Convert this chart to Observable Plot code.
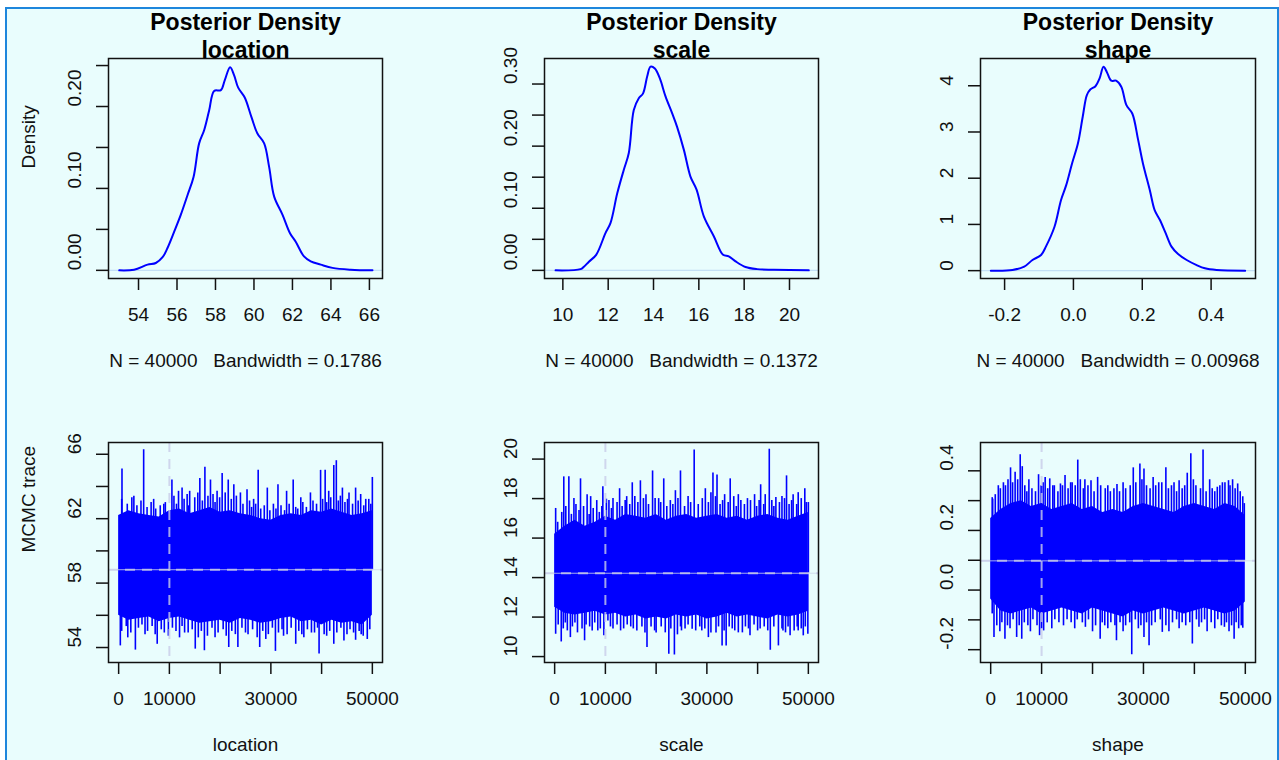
<!DOCTYPE html>
<html><head><meta charset="utf-8">
<script src="https://cdn.jsdelivr.net/npm/d3@7"></script>
<script src="https://cdn.jsdelivr.net/npm/@observablehq/plot@0.6"></script>
<style>
html,body{margin:0;padding:0;background:#fff;width:1279px;height:760px;overflow:hidden;}
#frame{position:absolute;left:5px;top:7px;width:1270px;height:760px;background:#e9fdfd;border:2px solid #1e86dc;border-bottom:none;}
.panel{position:absolute;}
</style></head><body>
<div id="frame"></div>
<div id="charts"></div>
<script>
// ---------- data ----------
const params = ["location", "scale", "shape"];
const bandwidths = ["0.1786", "0.1372", "0.00968"];
const nPost = 40000;
const burnIn = 10000;
const traceMeans = [58.83, 14.22, 0.098];

// posterior densities
const densLocX = [53.0, 53.77, 54.47, 54.9, 55.25, 55.5, 55.85, 56.2, 56.55, 56.86, 57.15, 57.41, 57.67, 57.93, 58.28, 58.48, 58.76, 58.97, 59.18, 59.52, 59.87, 60.18, 60.53, 60.79, 61.05, 61.48, 61.88, 62.17, 62.6, 62.95, 63.47, 64.08, 65.03, 66.16];
const densLocY = [0, 0.0008, 0.007, 0.009, 0.016, 0.027, 0.047, 0.068, 0.092, 0.114, 0.155, 0.171, 0.195, 0.219, 0.220, 0.232, 0.248, 0.238, 0.223, 0.211, 0.187, 0.167, 0.155, 0.126, 0.090, 0.068, 0.045, 0.035, 0.017, 0.011, 0.007, 0.003, 0.0008, 0];
const densScaleX = [9.68, 10.78, 10.93, 11.15, 11.47, 11.88, 12.1, 12.4, 12.69, 12.91, 13.13, 13.35, 13.54, 13.72, 13.87, 14.06, 14.28, 14.53, 14.82, 15.04, 15.34, 15.63, 15.9, 16.22, 16.66, 17.07, 17.32, 17.62, 18.06, 18.57, 19.31, 20.85];
const densScaleY = [0, 0.002, 0.006, 0.014, 0.025, 0.06, 0.076, 0.124, 0.162, 0.189, 0.258, 0.277, 0.285, 0.312, 0.328, 0.325, 0.309, 0.28, 0.253, 0.231, 0.194, 0.151, 0.13, 0.087, 0.055, 0.025, 0.0225, 0.0145, 0.0054, 0.002, 0.001, 0];
const densShapeX = [-0.24, -0.177, -0.143, -0.119, -0.094, -0.08, -0.055, -0.036, -0.021, -0.004, 0.013, 0.027, 0.039, 0.049, 0.064, 0.076, 0.0875, 0.097, 0.11, 0.124, 0.139, 0.154, 0.171, 0.188, 0.202, 0.222, 0.236, 0.251, 0.268, 0.285, 0.304, 0.329, 0.358, 0.382, 0.416, 0.499];
const densShapeY = [0, 0.014, 0.086, 0.23, 0.34, 0.52, 0.95, 1.53, 1.85, 2.32, 2.75, 3.33, 3.80, 3.92, 3.99, 4.16, 4.41, 4.30, 4.11, 4.11, 3.98, 3.58, 3.40, 2.83, 2.32, 1.74, 1.31, 1.10, 0.81, 0.52, 0.36, 0.23, 0.12, 0.05, 0.014, 0];

// MCMC traces: solid core of the band (every 2000 iterations)
const traceIter = [0, 2000, 4000, 6000, 8000, 10000, 12000, 14000, 16000, 18000, 20000, 22000, 24000, 26000, 28000, 30000, 32000, 34000, 36000, 38000, 40000, 42000, 44000, 46000, 48000, 50000];
const locHi = [62.2, 62.5, 62.3, 62.2, 62.1, 62.5, 62.6, 62.3, 62.5, 62.7, 62.4, 62.5, 62.3, 62.2, 62.0, 61.9, 62.2, 62.3, 62.2, 62.5, 62.4, 62.6, 62.4, 62.2, 62.3, 62.5];
const locLo = [56.0, 55.7, 55.8, 55.9, 55.6, 55.8, 55.9, 55.7, 55.5, 55.6, 55.7, 55.5, 55.8, 55.7, 55.5, 55.6, 55.8, 55.9, 55.6, 55.7, 55.4, 55.7, 55.5, 55.6, 55.4, 56.0];
const scaleHi = [16.2, 16.6, 16.9, 16.6, 16.8, 17.1, 16.9, 17.2, 17.1, 17.0, 17.2, 16.9, 17.1, 17.2, 17.0, 17.1, 17.2, 17.0, 17.1, 16.9, 17.1, 17.2, 17.0, 16.9, 17.1, 17.3];
const scaleLo = [12.5, 12.2, 12.1, 12.2, 12.3, 12.1, 12.2, 12.0, 12.1, 11.9, 12.0, 11.9, 12.1, 12.0, 12.1, 11.9, 12.0, 12.2, 12.0, 12.1, 12.0, 11.9, 12.1, 12.0, 12.1, 12.3];
const shapeHi = [0.24, 0.27, 0.29, 0.30, 0.28, 0.29, 0.27, 0.28, 0.29, 0.27, 0.28, 0.26, 0.27, 0.26, 0.28, 0.29, 0.28, 0.27, 0.26, 0.28, 0.29, 0.28, 0.27, 0.29, 0.28, 0.25];
const shapeLo = [-0.03, -0.07, -0.08, -0.07, -0.06, -0.08, -0.07, -0.06, -0.07, -0.08, -0.06, -0.07, -0.08, -0.09, -0.07, -0.08, -0.07, -0.06, -0.07, -0.08, -0.07, -0.06, -0.07, -0.08, -0.07, -0.04];

// MCMC traces: large excursions (iteration, value)
const locSpikeIter = [660, 3000, 4930, 6900, 8900, 10500, 11800, 12500, 13500, 14000, 16000, 17000, 18100, 19400, 20400, 21600, 22700, 24000, 25300, 26600, 27500, 29300, 31400, 33100, 34400, 35900, 37800, 39800, 40700, 41400, 42400, 42900, 44100, 45400, 46700, 47700, 48700, 50000,
  330, 1800, 3300, 5200, 7600, 9800, 12000, 13000, 15100, 16900, 19000, 21700, 23500, 25500, 27800, 29000, 30900, 32500, 34900, 36500, 38000, 39500, 41000, 42400, 44400, 46700, 47800, 49000];
const locSpikeVal = [65.08, 63.4, 66.28, 63.2, 62.9, 64.4, 63.7, 63.9, 63.5, 63.7, 64.5, 65.2, 64.4, 63.7, 64.8, 64.4, 64.1, 63.6, 63.8, 63.2, 65.0, 63.9, 64.1, 63.7, 64.4, 63.3, 63.6, 65.0, 65.0, 63.7, 65.3, 65.6, 63.9, 63.6, 63.9, 63.5, 63.2, 64.56,
  54.1, 54.6, 53.84, 54.8, 54.2, 54.7, 54.6, 54.9, 53.9, 53.8, 54.6, 54.0, 54.0, 54.8, 54.0, 54.5, 53.76, 54.7, 54.2, 54.6, 54.9, 53.6, 54.7, 54.2, 54.4, 54.45, 54.8, 54.5];
const scaleSpikeIter = [200, 1800, 2800, 3800, 5100, 6400, 7100, 8300, 9500, 10200, 11500, 12800, 14200, 15300, 16900, 18000, 19300, 20500, 21500, 23800, 24800, 26300, 27500, 29700, 30800, 31200, 32000, 33500, 34600, 35300, 36200, 38000, 39400, 40600, 41500, 42300, 43600, 44800, 45700, 47000, 48000, 49300, 50000,
  200, 1300, 2500, 3100, 4500, 5900, 7400, 8500, 9700, 11500, 13000, 15500, 18200, 20000, 22500, 23600, 25000, 27100, 29000, 30300, 31800, 33000, 33800, 35500, 37000, 38500, 40000, 42500, 44100, 45500, 46400, 48000, 49000, 49900];
const scaleSpikeVal = [17.5, 19.1, 19.1, 18.0, 19.0, 18.2, 18.1, 17.9, 18.6, 17.97, 18.0, 18.5, 18.1, 18.8, 18.9, 18.2, 19.4, 18.0, 19.0, 18.4, 19.4, 18.1, 20.46, 18.5, 18.3, 19.3, 19.2, 18.2, 19.0, 18.1, 18.2, 18.0, 18.2, 18.7, 18.2, 20.5, 18.05, 18.1, 19.15, 18.2, 18.3, 18.5, 17.8,
  11.13, 10.74, 11.3, 10.96, 11.2, 10.8, 11.3, 11.3, 11.05, 11.4, 11.3, 11.4, 10.46, 11.2, 10.12, 10.08, 11.3, 11.38, 11.3, 10.96, 11.2, 10.54, 10.54, 11.3, 11.2, 11.05, 11.3, 10.32, 10.54, 11.2, 11.05, 11.3, 11.05, 11.13];
const shapeSpikeIter = [400, 1500, 2500, 3900, 4800, 5800, 6200, 7500, 9400, 10700, 11600, 12500, 13700, 14600, 16000, 17100, 18500, 19700, 21000, 23000, 24800, 26000, 28000, 29300, 30100, 31900, 33000, 34400, 36000, 37000, 38600, 39300, 41700, 43000, 44500, 45500, 46700, 47500, 48500, 49500,
  650, 1800, 2800, 3800, 5100, 6100, 7800, 9600, 10400, 12000, 14300, 16500, 18600, 20000, 21500, 23000, 24700, 26000, 27700, 29000, 30100, 31100, 33700, 35000, 37000, 39600, 40900, 42500, 44000, 45900, 46800, 47800, 48700, 49500];
const shapeSpikeVal = [0.305, 0.35, 0.36, 0.41, 0.395, 0.454, 0.414, 0.37, 0.387, 0.378, 0.373, 0.35, 0.356, 0.384, 0.36, 0.436, 0.37, 0.367, 0.378, 0.35, 0.354, 0.36, 0.41, 0.423, 0.406, 0.378, 0.36, 0.41, 0.36, 0.367, 0.392, 0.457, 0.47, 0.37, 0.345, 0.36, 0.367, 0.37, 0.356, 0.313,
  -0.159, -0.14, -0.165, -0.13, -0.159, -0.165, -0.14, -0.153, -0.137, -0.13, -0.12, -0.13, -0.125, -0.14, -0.165, -0.13, -0.17, -0.14, -0.217, -0.13, -0.159, -0.187, -0.142, -0.14, -0.13, -0.181, -0.125, -0.14, -0.13, -0.125, -0.14, -0.165, -0.13, -0.128];

// MCMC traces: ragged band edge (iteration, value)
const locEdgeIter = [600, 1700, 2600, 3600, 4400, 5600, 6400, 7300, 8200, 9200, 10900, 11400, 12900, 13800, 15000, 15600, 16500, 17600, 18600, 19000, 19900, 21000, 22200, 23200, 24500, 25800, 26200, 27000, 28000, 28700, 29800, 30500, 31000, 32000, 32700, 33600, 34900, 35300, 36300, 37000, 38300, 39000, 40200, 41000, 41800, 43300, 43700, 44600, 45100, 46100, 47200, 48300, 49300, 49700,
  600, 1500, 2400, 3900, 4600, 5700, 6600, 7200, 8400, 9000, 10600, 11300, 12500, 13700, 14500, 15700, 16300, 17500, 18400, 19600, 20600, 21200, 22300, 23000, 24300, 25000, 26400, 27300, 28400, 29500, 30300, 31500, 32200, 33200, 34000, 35500, 36100, 37200, 38600, 39200, 40500, 41600, 43000, 43800, 45000, 45600, 46300, 47400, 48200, 49500];
const locEdgeVal = [63.2, 62.9, 63.3, 62.8, 63.1, 62.7, 63.0, 62.6, 62.8, 63.0, 63.4, 62.9, 63.2, 62.8, 63.3, 63.6, 63.1, 63.4, 63.5, 63.0, 63.3, 63.6, 63.2, 63.4, 62.9, 63.1, 62.7, 62.9, 62.6, 62.8, 62.5, 62.9, 62.6, 62.8, 62.5, 62.9, 62.7, 62.6, 63.0, 62.7, 63.1, 62.9, 63.2, 63.0, 63.3, 63.1, 63.4, 63.0, 63.2, 62.9, 63.1, 62.8, 63.2, 62.9,
  55.0, 55.3, 54.9, 55.2, 55.4, 55.0, 55.3, 54.8, 55.1, 54.9, 55.2, 55.0, 55.3, 54.9, 55.1, 54.6, 55.0, 54.7, 55.2, 54.9, 55.1, 54.7, 55.0, 54.8, 55.2, 54.9, 55.1, 54.6, 55.0, 54.8, 55.2, 54.9, 55.1, 54.8, 55.2, 55.0, 54.8, 55.1, 54.9, 55.2, 54.8, 55.0, 54.9, 55.2, 54.8, 55.1, 54.9, 55.0, 54.7, 55.1];
const scaleEdgeIter = [600, 1400, 2200, 3300, 4200, 4800, 5700, 6800, 7600, 8800, 9300, 10700, 11200, 12300, 13300, 13900, 14800, 15800, 16400, 17500, 18500, 19800, 20900, 22100, 22800, 23300, 24300, 25600, 26800, 28300, 29100, 30300, 31700, 32600, 33100, 34200, 35800, 36700, 37400, 38600, 39800, 40300, 41200, 42800, 43200, 44300, 45300, 46200, 46700, 47700, 48600, 49600,
  700, 1700, 2100, 3500, 4000, 5400, 6200, 6900, 7900, 9000, 10500, 11000, 12300, 13600, 14300, 15000, 16200, 17200, 17800, 19000, 19700, 21000, 21800, 22900, 24200, 24800, 25700, 26300, 27800, 28600, 29600, 30800, 32300, 33400, 34400, 35000, 36200, 37600, 38200, 39300, 40500, 41300, 42000, 43200, 44800, 45000, 46000, 47200, 47800, 48600, 49400];
const scaleEdgeVal = [16.8, 17.3, 17.6, 17.2, 17.7, 17.4, 17.6, 17.2, 17.5, 17.3, 17.6, 17.9, 17.5, 17.8, 17.6, 17.9, 17.7, 18.1, 17.8, 18.0, 17.7, 18.0, 17.8, 17.6, 17.9, 17.7, 18.0, 17.6, 17.8, 17.7, 18.0, 17.8, 18.1, 17.7, 17.9, 17.8, 17.6, 17.9, 17.7, 17.9, 17.6, 17.9, 17.7, 17.9, 17.6, 17.8, 18.0, 17.7, 17.9, 17.7, 18.0, 17.8,
  11.6, 11.4, 11.7, 11.5, 11.7, 11.4, 11.6, 11.5, 11.7, 11.4, 11.8, 11.5, 11.6, 11.4, 11.6, 11.5, 11.3, 11.5, 11.2, 11.5, 11.3, 11.5, 11.2, 11.4, 11.1, 11.5, 11.4, 11.6, 11.3, 11.5, 11.4, 11.2, 11.5, 11.3, 11.5, 11.4, 11.2, 11.5, 11.4, 11.6, 11.4, 11.5, 11.3, 11.5, 11.4, 11.3, 11.5, 11.3, 11.5, 11.4, 11.5];
const shapeEdgeIter = [300, 900, 1900, 2900, 3400, 4300, 5300, 6700, 7100, 8100, 8800, 9900, 10300, 11200, 12200, 13200, 14100, 15200, 15700, 16600, 17600, 18200, 19100, 20300, 21600, 22500, 23500, 24200, 25300, 26500, 27400, 28500, 29700, 30600, 31300, 32400, 33600, 34900, 35500, 36500, 37600, 38100, 39800, 40300, 41200, 42300, 43500, 44000, 45000, 46000, 47000, 48000, 49000, 49800,
  300, 1200, 2200, 3300, 4400, 5600, 6600, 7300, 8300, 9100, 10000, 11100, 12600, 13400, 15000, 15800, 17000, 18000, 19200, 20600, 21900, 22400, 23600, 24400, 25400, 26500, 27300, 28400, 29500, 30600, 31600, 32300, 33300, 34400, 35700, 36500, 37600, 38300, 39100, 40400, 41400, 42000, 43300, 44600, 45300, 46300, 47300, 48200, 49200];
const shapeEdgeVal = [0.31, 0.32, 0.34, 0.35, 0.37, 0.36, 0.37, 0.35, 0.33, 0.34, 0.33, 0.35, 0.36, 0.34, 0.35, 0.33, 0.35, 0.34, 0.36, 0.35, 0.37, 0.34, 0.35, 0.33, 0.35, 0.34, 0.33, 0.34, 0.33, 0.34, 0.35, 0.36, 0.37, 0.35, 0.34, 0.35, 0.36, 0.34, 0.35, 0.33, 0.34, 0.35, 0.37, 0.35, 0.34, 0.33, 0.34, 0.33, 0.35, 0.36, 0.35, 0.34, 0.33, 0.29,
  -0.08, -0.12, -0.11, -0.12, -0.10, -0.12, -0.11, -0.12, -0.10, -0.12, -0.13, -0.11, -0.10, -0.11, -0.10, -0.11, -0.10, -0.11, -0.10, -0.12, -0.11, -0.12, -0.11, -0.12, -0.11, -0.12, -0.11, -0.10, -0.12, -0.11, -0.12, -0.11, -0.10, -0.12, -0.11, -0.10, -0.11, -0.12, -0.11, -0.10, -0.11, -0.10, -0.11, -0.10, -0.12, -0.11, -0.12, -0.11, -0.12];

// axis ticks and labels
const densXTicks = [[54, 56, 58, 60, 62, 64, 66], [10, 12, 14, 16, 18, 20], [-0.2, 0.0, 0.2, 0.4]];
const densXLabels = [["54", "56", "58", "60", "62", "64", "66"], ["10", "12", "14", "16", "18", "20"], ["-0.2", "0.0", "0.2", "0.4"]];
const densYTicks = [[0, 0.05, 0.10, 0.15, 0.20, 0.25], [0, 0.05, 0.10, 0.15, 0.20, 0.25, 0.30], [0, 1, 2, 3, 4]];
const densYLabelAt = [[0, 0.10, 0.20], [0, 0.10, 0.20, 0.30], [0, 1, 2, 3, 4]];
const densYLabels = [["0.00", "0.10", "0.20"], ["0.00", "0.10", "0.20", "0.30"], ["0", "1", "2", "3", "4"]];
const traceXTicks = [0, 10000, 20000, 30000, 40000, 50000];
const traceXLabelAt = [0, 10000, 30000, 50000];
const traceXLabels = ["0", "10000", "30000", "50000"];
const traceYTicks = [[54, 56, 58, 60, 62, 64, 66], [10, 12, 14, 16, 18, 20], [-0.2, -0.1, 0.0, 0.1, 0.2, 0.3, 0.4]];
const traceYLabelAt = [[54, 58, 62, 66], [10, 12, 14, 16, 18, 20], [-0.2, 0.0, 0.2, 0.4]];
const traceYLabels = [["54", "58", "62", "66"], ["10", "12", "14", "16", "18", "20"], ["-0.2", "0.0", "0.2", "0.4"]];

// ---------- build ----------
const dens = [[densLocX, densLocY], [densScaleX, densScaleY], [densShapeX, densShapeY]];
const band = [[locHi, locLo], [scaleHi, scaleLo], [shapeHi, shapeLo]];
const spikes = [[locSpikeIter.concat(locEdgeIter), locSpikeVal.concat(locEdgeVal)],
                [scaleSpikeIter.concat(scaleEdgeIter), scaleSpikeVal.concat(scaleEdgeVal)],
                [shapeSpikeIter.concat(shapeEdgeIter), shapeSpikeVal.concat(shapeEdgeVal)]];

const densXDomain = [[52.44, 66.68], [9.19, 21.28], [-0.27, 0.529]];
const densYDomain = [[-0.00995, 0.2586], [-0.0131, 0.3411], [-0.17, 4.59]];
const traceXDomain = [-1999, 52000];
const traceYDomain = [[53.07, 66.73], [9.70, 20.84], [-0.243, 0.495]];

const colLeft = [0, 436, 872];
const boxW = [274, 274, 275];
const mRight = [30, 30, 20];
const BLUE = "#0000ff";
const INK = "#111";
const FONT = "'Liberation Sans', Arial, Helvetica, sans-serif";
const charts = document.getElementById("charts");

function place(svg, left, top) {
  const d = document.createElement("div");
  d.className = "panel";
  d.style.left = left + "px";
  d.style.top = top + "px";
  d.appendChild(svg);
  charts.appendChild(d);
}

function commonMarks(xTicks, xLabAt, xLabs, yTicks, yLabAt, yLabs) {
  return [
    Plot.frame({stroke: INK, strokeWidth: 1.5}),
    Plot.axisX({ticks: xTicks, tickSize: 12, tickFormat: () => "", color: INK, strokeWidth: 1.5, label: null}),
    Plot.axisY({ticks: yTicks, tickSize: 12, tickFormat: () => "", color: INK, strokeWidth: 1.5, label: null}),
    Plot.text(xLabAt, {x: d => d, text: (d, j) => xLabs[j], frameAnchor: "bottom", dy: 36, lineAnchor: "middle", fill: INK}),
    Plot.text(yLabAt, {y: d => d, text: (d, j) => yLabs[j], frameAnchor: "left", dx: -33.5, rotate: -90, lineAnchor: "middle", fill: INK})
  ];
}

for (let i = 0; i < 3; i++) {
  const w = 108 + boxW[i] + mRight[i];
  // density panel
  const dd = dens[i][0].map((x, j) => ({x, y: dens[i][1][j]}));
  const top = Plot.plot({
    width: w, height: 380,
    marginLeft: 108, marginRight: mRight[i], marginTop: 58, marginBottom: 102,
    x: {domain: densXDomain[i]},
    y: {domain: densYDomain[i]},
    style: {background: "transparent", fontSize: "19px", fontFamily: FONT, color: INK, overflow: "visible"},
    marks: [
      Plot.ruleY([0], {stroke: "#c3dff5", strokeWidth: 1.2}),
      Plot.line(dd, {x: "x", y: "y", stroke: BLUE, strokeWidth: 2, curve: "catmull-rom"}),
      ...commonMarks(densXTicks[i], densXTicks[i], densXLabels[i], densYTicks[i], densYLabelAt[i], densYLabels[i]),
      Plot.text(["Posterior Density"], {frameAnchor: "top", dy: -36, fontWeight: "bold", fontSize: 23, lineAnchor: "middle", fill: "#000"}),
      Plot.text([params[i]], {frameAnchor: "top", dy: -8, fontWeight: "bold", fontSize: 23, lineAnchor: "middle", fill: "#000"}),
      Plot.text([`N = ${nPost}\u00a0\u00a0\u00a0Bandwidth = ${bandwidths[i]}`], {frameAnchor: "bottom", dy: 82, lineAnchor: "middle", fill: INK}),
      ...(i === 0 ? [Plot.text(["Density"], {frameAnchor: "left", dx: -80, rotate: -90, lineAnchor: "middle", fill: INK})] : [])
    ]
  });
  place(top, colLeft[i], 0);

  // trace panel
  const bd = traceIter.map((it, j) => ({iter: it, hi: band[i][0][j], lo: band[i][1][j]}));
  const sd = spikes[i][0].map((it, j) => ({iter: it, v: spikes[i][1][j]}));
  const bot = Plot.plot({
    width: w, height: 376,
    marginLeft: 108, marginRight: mRight[i], marginTop: 58, marginBottom: 98,
    x: {domain: traceXDomain},
    y: {domain: traceYDomain[i]},
    style: {background: "transparent", fontSize: "19px", fontFamily: FONT, color: INK, overflow: "visible"},
    marks: [
      Plot.areaY(bd, {x: "iter", y1: "lo", y2: "hi", fill: BLUE}),
      Plot.ruleX(sd, {x: "iter", y1: traceMeans[i], y2: "v", stroke: BLUE, strokeWidth: 1.6}),
      Plot.ruleY([traceMeans[i]], {stroke: "#cdd6ea", strokeWidth: 1, strokeOpacity: 0.8}),
      Plot.ruleY([traceMeans[i]], {stroke: "#c8cce8", strokeOpacity: 0.8, strokeWidth: 2, strokeDasharray: "10,7"}),
      Plot.ruleX([burnIn], {stroke: "#c8cce8", strokeOpacity: 0.8, strokeWidth: 2, strokeDasharray: "10,7"}),
      ...commonMarks(traceXTicks, traceXLabelAt, traceXLabels, traceYTicks[i], traceYLabelAt[i], traceYLabels[i]),
      Plot.text([params[i]], {frameAnchor: "bottom", dy: 82.6, lineAnchor: "middle", fill: INK}),
      ...(i === 0 ? [Plot.text(["MCMC trace"], {frameAnchor: "left", dx: -80, rotate: -90, lineAnchor: "middle", fill: INK})] : [])
    ]
  });
  place(bot, colLeft[i], 384);
}
</script></body></html>
